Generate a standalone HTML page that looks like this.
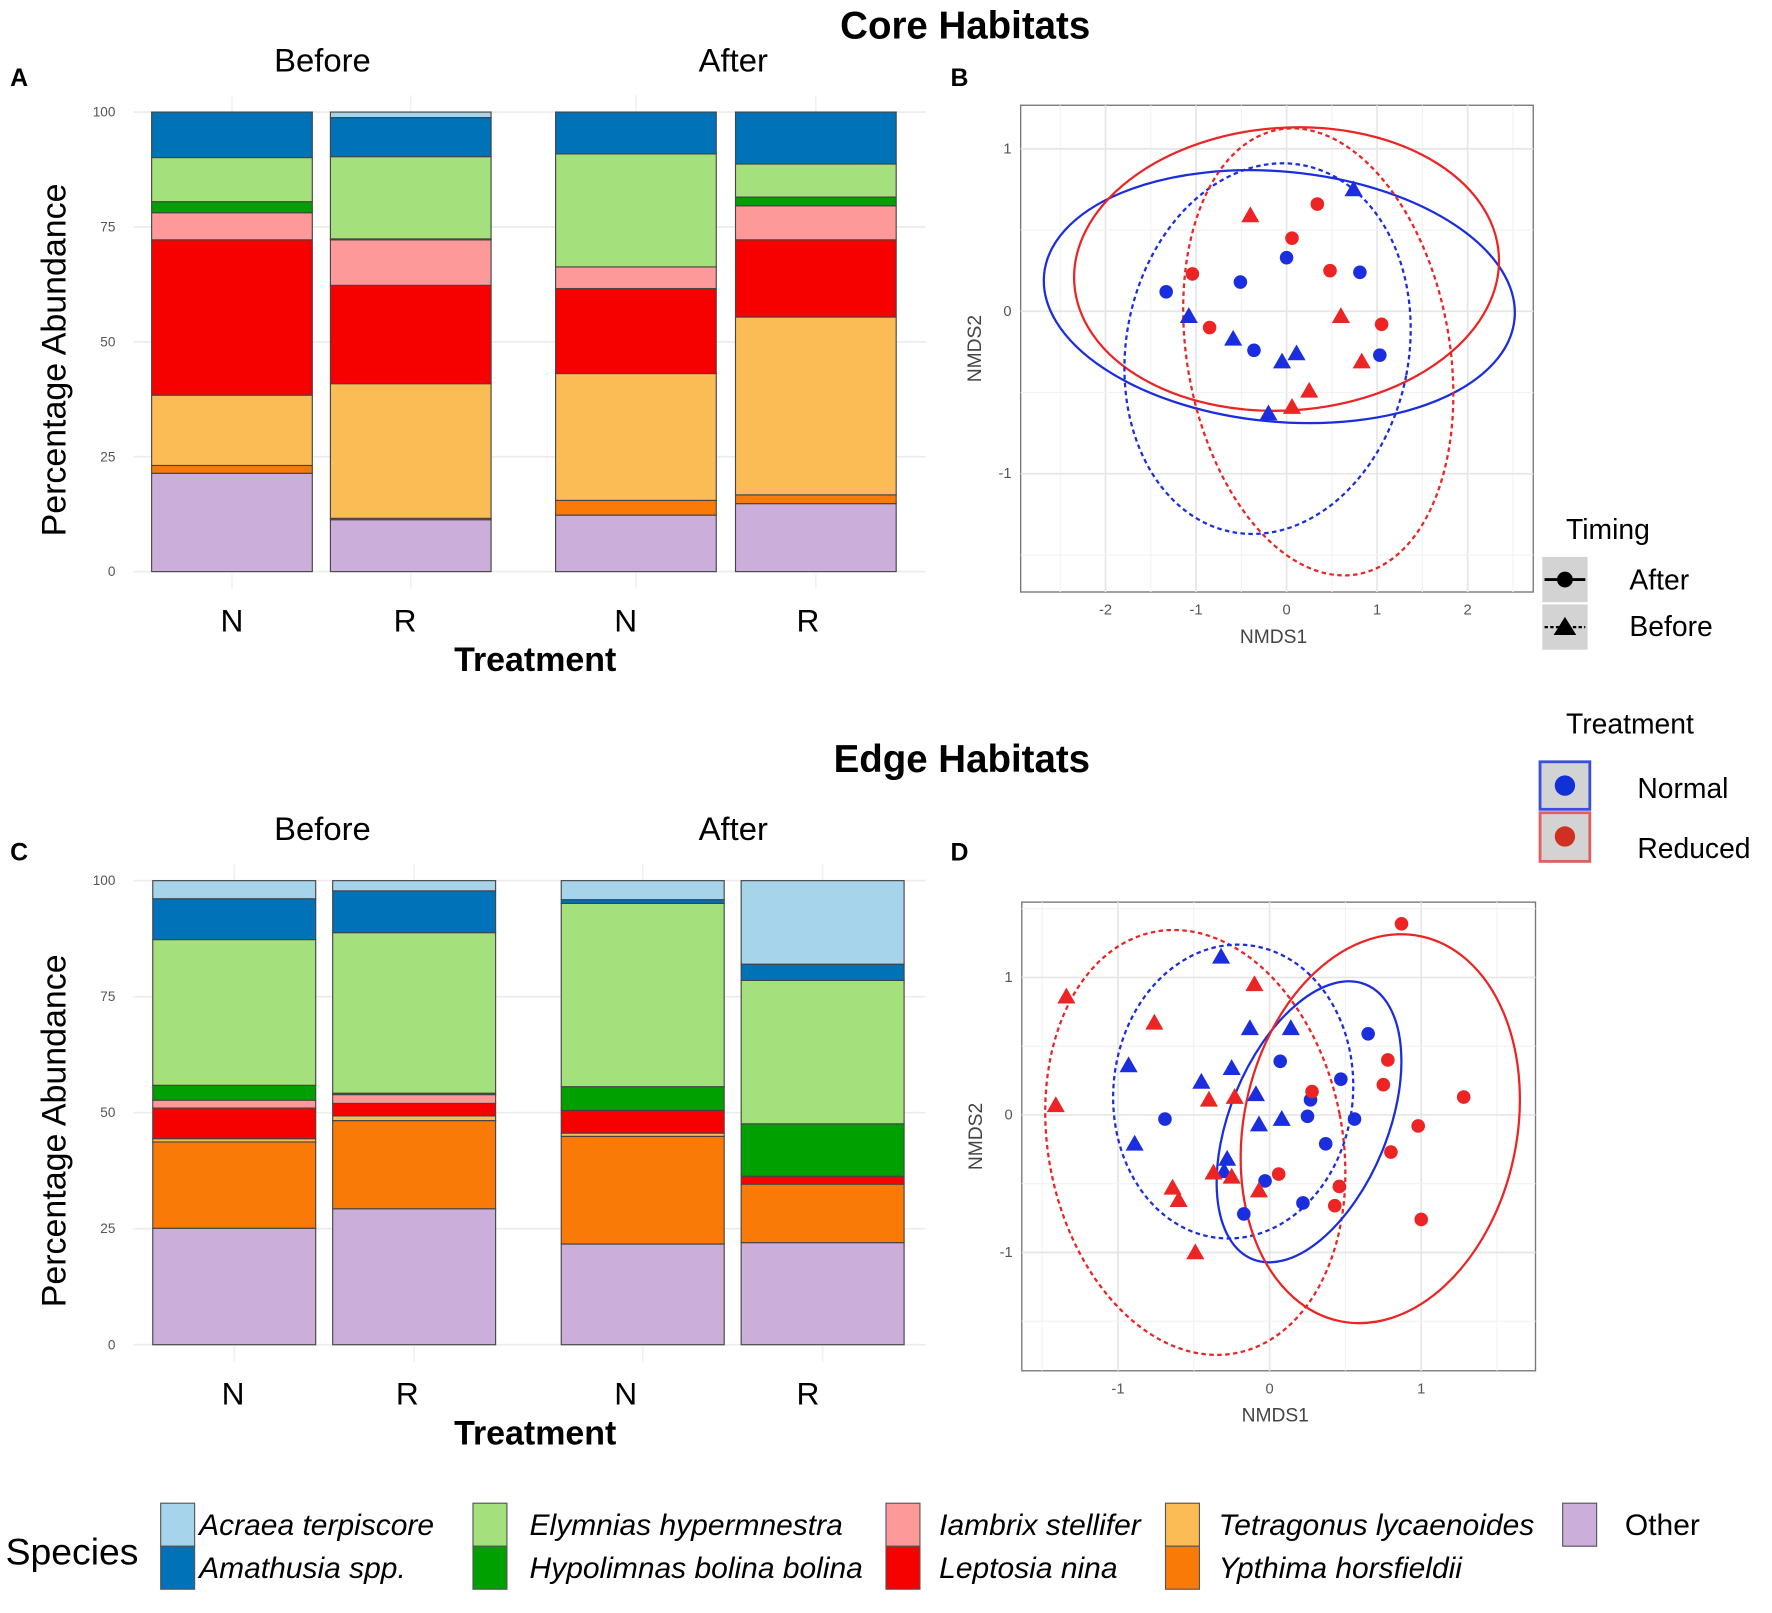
<!DOCTYPE html>
<html><head><meta charset="utf-8">
<style>
html,body{margin:0;padding:0;background:#fff;}
svg{display:block;font-family:"Liberation Sans",sans-serif;}
</style></head>
<body>
<svg id="fig" width="1772" height="1613" viewBox="0 0 1566 1425" preserveAspectRatio="none" xmlns="http://www.w3.org/2000/svg">
<rect x="0" y="0" width="1566" height="1425" fill="#fff"/>
<g id="static">
<text x="853" y="34" font-size="34" font-weight="bold" text-anchor="middle">Core Habitats</text>
<text x="850" y="682" font-size="34" font-weight="bold" text-anchor="middle">Edge Habitats</text>
<text x="9" y="76" font-size="22" font-weight="bold">A</text>
<text x="840" y="76" font-size="22" font-weight="bold">B</text>
<text x="9" y="760" font-size="22" font-weight="bold">C</text>
<text x="840" y="760" font-size="22" font-weight="bold">D</text>
<text x="1384" y="476" font-size="25">Timing</text>
<rect x="1363" y="492" width="40" height="40" fill="#d3d3d3"/>
<line x1="1365" y1="512" x2="1401" y2="512" stroke="#000" stroke-width="2.5"/>
<circle cx="1383" cy="512" r="7" fill="#000"/>
<rect x="1363" y="534" width="40" height="40" fill="#d3d3d3"/>
<line x1="1365" y1="554" x2="1401" y2="554" stroke="#000" stroke-width="2" stroke-dasharray="3,2"/>
<polygon points="1383,545 1393,561 1373,561" fill="#000"/>
<text x="1440" y="521" font-size="25">After</text>
<text x="1440" y="562" font-size="25">Before</text>
<text x="1384" y="648" font-size="25">Treatment</text>
<rect x="1361" y="673" width="44" height="42" fill="#d3d3d3" stroke="#3a4fe0" stroke-width="2.5"/>
<circle cx="1383" cy="694" r="9" fill="#1030d8"/>
<rect x="1361" y="718" width="44" height="43" fill="#d3d3d3" stroke="#e06060" stroke-width="2.5"/>
<circle cx="1383" cy="739" r="9" fill="#d03020"/>
<text x="1447" y="705" font-size="25">Normal</text>
<text x="1447" y="758" font-size="25">Reduced</text>
</g>
<g id="species-legend"></g>
<g id="bars"></g>
<g id="nmds"></g>
</svg>
<script>
const species = ["Other","Ypthima horsfieldii","Tetragonus lycaenoides","Leptosia nina","Iambrix stellifer","Hypolimnas bolina bolina","Elymnias hypermnestra","Amathusia spp.","Acraea terpiscore"];
const speciesColors = ["#cbaed9","#f97a06","#fbbc55","#f70000","#fe9999","#00a000","#a4e07c","#0072b8","#a6d4ea"];
const barGroups = ["Before N","Before R","After N","After R"];
const barLabels = ["N","R","N","R"];
const coreBeforeN = [21.4,1.7,15.3,33.8,5.9,2.4,9.6,9.9,0];
const coreBeforeR = [11.3,0.3,29.3,21.4,9.9,0.2,17.9,8.5,1.2];
const coreAfterN  = [12.3,3.2,27.6,18.5,4.7,0,24.6,9.1,0];
const coreAfterR  = [14.8,1.9,38.7,16.8,7.4,1.9,7.2,11.3,0];
const edgeBeforeN = [25.1,18.6,0.7,6.6,1.7,3.2,31.4,8.8,3.9];
const edgeBeforeR = [29.3,19.0,1.0,2.7,1.9,0.3,34.6,9.0,2.2];
const edgeAfterN  = [21.7,23.2,0.7,4.9,0,5.1,39.5,0.8,4.1];
const edgeAfterR  = [22.0,12.6,0,1.7,0,11.3,30.9,3.5,18.0];
const yTicks = [0,25,50,75,100];

const coreNormalAfterX = [-1.33,-0.51,0.0,0.81,-0.36,1.03];
const coreNormalAfterY = [0.12,0.18,0.33,0.24,-0.24,-0.27];
const coreNormalBeforeX = [0.74,-1.08,-0.59,0.11,-0.05,-0.2];
const coreNormalBeforeY = [0.75,-0.03,-0.17,-0.26,-0.31,-0.63];
const coreReducedAfterX = [0.34,0.06,-1.04,0.48,-0.85,1.05];
const coreReducedAfterY = [0.66,0.45,0.23,0.25,-0.1,-0.08];
const coreReducedBeforeX = [-0.4,0.6,0.83,0.25,0.06];
const coreReducedBeforeY = [0.59,-0.03,-0.31,-0.49,-0.59];
const edgeNormalAfterX = [0.65,0.07,0.47,0.27,0.25,-0.69,0.56,0.37,-0.03,0.22,-0.17];
const edgeNormalAfterY = [0.59,0.39,0.26,0.11,-0.01,-0.03,-0.03,-0.21,-0.48,-0.64,-0.72];
const edgeNormalBeforeX = [-0.32,-0.13,0.14,-0.93,-0.25,-0.45,-0.09,0.08,-0.07,-0.89,-0.28,-0.3];
const edgeNormalBeforeY = [1.15,0.63,0.63,0.36,0.34,0.24,0.15,-0.03,-0.07,-0.21,-0.32,-0.41];
const edgeReducedAfterX = [0.87,0.78,0.75,1.28,0.28,0.98,0.8,0.06,0.46,0.43,1.0];
const edgeReducedAfterY = [1.39,0.4,0.22,0.13,0.17,-0.08,-0.27,-0.43,-0.52,-0.66,-0.76];
const edgeReducedBeforeX = [-1.34,-0.1,-0.76,-1.41,-0.4,-0.23,-0.37,-0.25,-0.07,-0.64,-0.6,-0.49];
const edgeReducedBeforeY = [0.86,0.95,0.67,0.07,0.11,0.13,-0.42,-0.45,-0.55,-0.53,-0.62,-1.0];
// ellipses: [cx, cy, rx, ry (data units), angle deg]
const coreEllNormalAfter = [-0.08,0.09,2.61,0.77,5.4];
const coreEllReducedAfter = [0.0,0.26,2.35,0.87,-4];
const coreEllNormalBefore = [-0.21,-0.23,1.56,1.15,11];
const coreEllReducedBefore = [0.35,-0.25,1.45,1.39,-10];
const edgeEllReducedBefore = [-0.49,-0.2,0.97,1.56,-11];
const edgeEllNormalBefore = [-0.24,0.17,0.79,1.07,5.5];
const edgeEllNormalAfter = [0.26,-0.05,0.52,1.08,22.5];
const edgeEllReducedAfter = [0.73,-0.1,0.9,1.43,12];
const coreXTicks = [-2,-1,0,1,2];
const coreYTicks = [-1,0,1];
const edgeXTicks = [-1,0,1];
const edgeYTicks = [-1,0,1];

const NS="http://www.w3.org/2000/svg";
function mk(tag,attrs,parent){const e=document.createElementNS(NS,tag);for(const k in attrs)e.setAttribute(k,attrs[k]);parent.appendChild(e);return e;}
function txt(s,attrs,parent){const e=mk("text",attrs,parent);e.textContent=s;return e;}

const barsG=document.getElementById("bars");
function barPanel(y100,y0,barXs,barW,labelXs,datasets,prefix){
  const g=mk("g",{},barsG);
  
  
  const yS=v=>y0-(y0-y100)*v/100;
  yTicks.forEach(t=>{
    const l=mk("line",{x1:118,x2:818,y1:yS(t),y2:yS(t),stroke:"#ececec","stroke-width":1.5},g);
    
    
    const tl=txt(String(t),{x:102,y:yS(t)+4,"font-size":12,fill:"#555","text-anchor":"end"},g);
    
    
  });
  barXs.forEach(x=>{mk("line",{x1:x+barW/2,x2:x+barW/2,y1:y100-15,y2:y0+15,stroke:"#f2f2f2","stroke-width":1.5},g);});
  datasets.forEach((d,i)=>{
    let cum=0;
    d.forEach((v,s)=>{
      if(v<=0) return;
      const r=mk("rect",{x:barXs[i],y:yS(cum+v),width:barW,height:yS(cum)-yS(cum+v),fill:speciesColors[s],stroke:"#444","stroke-width":1},g);
      
      
      cum+=v;
    });
    const xl=txt(barLabels[i],{x:labelXs[i],y:y0+53,"font-size":28,"text-anchor":"middle"},g);
    
    
  });
  const t1=txt("Before",{x:285,y:y100-36,"font-size":29,"text-anchor":"middle"},g);
  
  
  const t2=txt("After",{x:648,y:y100-36,"font-size":29,"text-anchor":"middle"},g);
  
  
  const xt=txt("Treatment",{x:473,y:y0+88,"font-size":30,"font-weight":"bold","text-anchor":"middle"},g);
  
  
  const cy=(y100+y0)/2+16;
  const yt=txt("Percentage Abundance",{x:0,y:0,"font-size":30,"text-anchor":"middle",transform:`translate(58,${cy}) rotate(-90)`},g);
  
  
}
barPanel(99,505,[134,292,491,650],142,[205,358,553,714],[coreBeforeN,coreBeforeR,coreAfterN,coreAfterR],"core");
barPanel(778,1188,[135,294,496,655],144,[206,360,553,714],[edgeBeforeN,edgeBeforeR,edgeAfterN,edgeAfterR],"edge");

const nm=document.getElementById("nmds");
function nmdsPanel(o){
  const g=mk("g",{},nm);
  
  
  const X=v=>o.x0+v*o.xu, Y=v=>o.y0-v*o.yu;
  mk("rect",{x:o.fx,y:o.fy,width:o.fw,height:o.fh,fill:"#fff",stroke:"#777","stroke-width":1.2},g);
  for(let v=-4;v<=4;v+=0.5){const px=X(v);if(px>o.fx&&px<o.fx+o.fw)mk("line",{x1:px,x2:px,y1:o.fy,y2:o.fy+o.fh,stroke:v%1===0?"#e6e6e6":"#f2f2f2","stroke-width":v%1===0?1.5:1},g);}
  for(let v=-4;v<=4;v+=0.5){const py=Y(v);if(py>o.fy&&py<o.fy+o.fh)mk("line",{x1:o.fx,x2:o.fx+o.fw,y1:py,y2:py,stroke:v%1===0?"#e6e6e6":"#f2f2f2","stroke-width":v%1===0?1.5:1},g);}
  o.xt.forEach(t=>{const e=txt(String(t),{x:X(t),y:o.fy+o.fh+20,"font-size":13,fill:"#555","text-anchor":"middle"},g);
    
    });
  o.yt.forEach(t=>{const e=txt(String(t),{x:o.fx-8,y:Y(t)+4,"font-size":13,fill:"#555","text-anchor":"end"},g);
    
    });
  const xa=txt("NMDS1",{x:o.fx+o.fw/2-3,y:o.fy+o.fh+45,"font-size":17,fill:"#444","text-anchor":"middle"},g);
  
  
  const ya=txt("NMDS2",{x:0,y:0,"font-size":17,fill:"#444","text-anchor":"middle",transform:`translate(${o.fx-35},${o.fy+o.fh/2}) rotate(-90)`},g);
  
  
  o.ells.forEach(([e,col,dash])=>{
    const cx=X(e[0]),cy=Y(e[1]);
    const el=mk("ellipse",{cx:cx,cy:cy,rx:e[2]*o.xu,ry:e[3]*o.yu,fill:"none",stroke:col,"stroke-width":2,transform:`rotate(${e[4]} ${cx} ${cy})`},g);
    if(dash) el.setAttribute("stroke-dasharray","4,3");
    
    
  });
  o.pts.forEach(([xs,ys,col,shape])=>{
    xs.forEach((v,i)=>{
      const px=X(v),py=Y(ys[i]);
      let m;
      if(shape==="c") m=mk("circle",{cx:px,cy:py,r:6,fill:col},g);
      else m=mk("polygon",{points:`${px},${py-8} ${px+8},${py+6} ${px-8},${py+6}`,fill:col},g);
      
      
    });
  });
}
const BL="#1a2ee0", RD="#ec2424";
nmdsPanel({name:"core-nmds-plot",fx:902,fy:93,fw:453,fh:430,x0:1137,xu:80,y0:275,yu:143.5,xt:coreXTicks,yt:coreYTicks,
  ells:[[coreEllNormalAfter,BL,false],[coreEllReducedAfter,RD,false],[coreEllNormalBefore,BL,true],[coreEllReducedBefore,RD,true]],
  pts:[[coreNormalAfterX,coreNormalAfterY,BL,"c"],[coreNormalBeforeX,coreNormalBeforeY,BL,"t"],[coreReducedAfterX,coreReducedAfterY,RD,"c"],[coreReducedBeforeX,coreReducedBeforeY,RD,"t"]]});
nmdsPanel({name:"edge-nmds-plot",fx:903,fy:797,fw:454,fh:414,x0:1122,xu:134,y0:985,yu:121.5,xt:edgeXTicks,yt:edgeYTicks,
  ells:[[edgeEllReducedBefore,RD,true],[edgeEllNormalBefore,BL,true],[edgeEllNormalAfter,BL,false],[edgeEllReducedAfter,RD,false]],
  pts:[[edgeNormalAfterX,edgeNormalAfterY,BL,"c"],[edgeNormalBeforeX,edgeNormalBeforeY,BL,"t"],[edgeReducedAfterX,edgeReducedAfterY,RD,"c"],[edgeReducedBeforeX,edgeReducedBeforeY,RD,"t"]]});

const lg=document.getElementById("species-legend");
const st=txt("Species",{x:5,y:1382,"font-size":33},lg);


const legendItems=[[8,142,176,1328],[7,142,176,1366],[6,418,468,1328],[5,418,468,1366],[4,783,830,1328],[3,783,830,1366],[2,1030,1077,1328],[1,1030,1077,1366],[0,1381,1436,1328]];
legendItems.forEach(([s,bx,tx,by])=>{
  const r=mk("rect",{x:bx,y:by,width:30,height:38,fill:speciesColors[s],stroke:"#555","stroke-width":1},lg);
  
  
  const t=txt(species[s],{x:tx,y:by+28,"font-size":26.5,"font-style":s===0?"normal":"italic"},lg);
  
  
});
</script>
</body></html>
